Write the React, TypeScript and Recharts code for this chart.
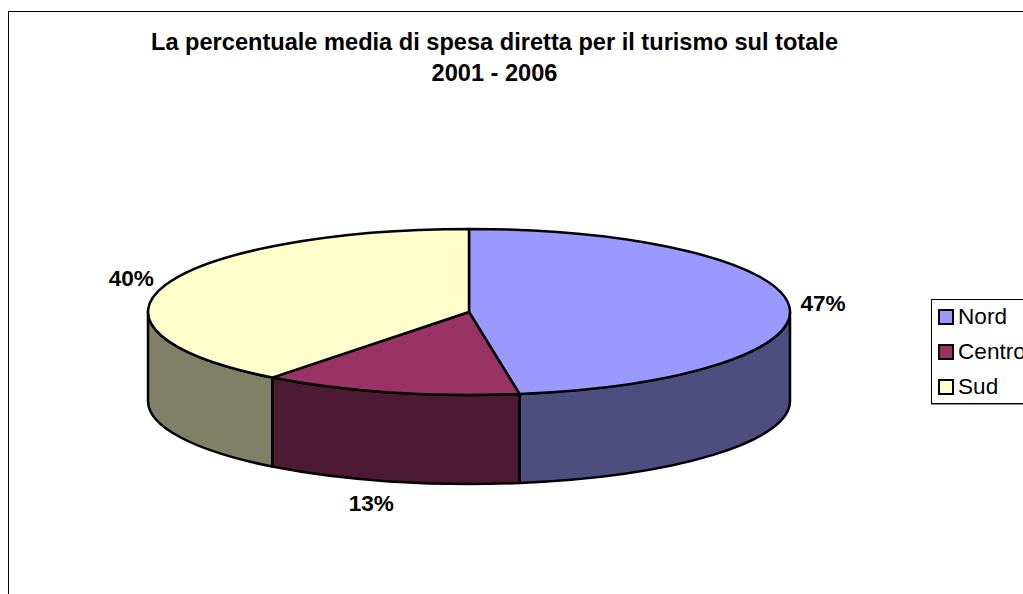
import React from "react";
import { PieChart, Pie, Legend } from "recharts";

const categories = ["Nord", "Centro", "Sud"];
const shares = [47.49, 13.01, 39.5];
const topColors = ["#9999FF", "#993366", "#FFFFCC"];
const sideColors = ["#4D4D80", "#4D1A33", "#808066"];
const titleLines = [
  "La percentuale media di spesa diretta per il turismo sul totale",
  "2001 - 2006",
];

const FONT = '"Liberation Sans", Arial, sans-serif';
const WIDTH = 1023;
const HEIGHT = 594;
const CX = 469;
const CY = 312;
const RX = 321;
const RY = 83; // flattened height of the pie top
const DEPTH = 89;
const OUTLINE = 2.5;

// label offset from the rim point of each slice
const labelOffsets = [
  { dx: 34, dy: -2 },
  { dx: -18, dy: 111 },
  { dx: -34, dy: -7 },
];

const tableData = categories.map((name, i) => ({
  name,
  value: shares[i],
  fill: topColors[i],
  side: sideColors[i],
}));

const rim = (cx: number, cy: number, rx: number, ry: number, deg: number) => {
  const a = (deg * Math.PI) / 180;
  return { x: cx + rx * Math.cos(a), y: cy - ry * Math.sin(a) };
};

// 3D looking slice: the recharts angles are kept, only the circle is squashed
const Slice = (props: any) => {
  const { cx, cy, outerRadius, startAngle, endAngle, fill, side } = props;
  const ry = (outerRadius * RY) / RX;
  const a = rim(cx, cy, outerRadius, ry, startAngle);
  const b = rim(cx, cy, outerRadius, ry, endAngle);
  const large = Math.abs(startAngle - endAngle) > 180 ? 1 : 0;
  const top = `M${cx},${cy} L${a.x},${a.y} A${outerRadius},${ry} 0 ${large} 1 ${b.x},${b.y} Z`;

  // only the front half of the rim has a visible wall
  const from = Math.min(startAngle, 0);
  const to = Math.max(endAngle, -180);
  let wall = null;
  if (from > to) {
    const p = rim(cx, cy, outerRadius, ry, from);
    const q = rim(cx, cy, outerRadius, ry, to);
    wall = `M${p.x},${p.y} A${outerRadius},${ry} 0 0 1 ${q.x},${q.y} L${q.x},${q.y + DEPTH} A${outerRadius},${ry} 0 0 0 ${p.x},${p.y + DEPTH} Z`;
  }

  return (
    <g>
      {wall && <path d={wall} fill={side} stroke="#000" strokeWidth={OUTLINE} strokeLinejoin="round" />}
      <path d={top} fill={fill} stroke="#000" strokeWidth={OUTLINE} strokeLinejoin="round" />
    </g>
  );
};

const renderLabel = (props: any) => {
  const { cx, cy, outerRadius, midAngle, percent, index } = props;
  const p = rim(cx, cy, outerRadius, (outerRadius * RY) / RX, midAngle);
  const off = labelOffsets[index];
  return (
    <text
      x={p.x + off.dx}
      y={p.y + off.dy}
      textAnchor="middle"
      dominantBaseline="central"
      fontFamily={FONT}
      fontSize={22.6}
      fontWeight="bold"
      fill="#000"
    >
      {`${Math.round(percent * 100)}%`}
    </text>
  );
};

const renderLegend = (props: any) => (
  <div
    style={{
      width: 130,
      height: 105,
      boxSizing: "border-box",
      border: "1px solid #000",
      boxShadow: "0 1px 0 #888",
      background: "#fff",
      paddingLeft: 6,
      fontFamily: FONT,
      fontSize: 22.6,
      color: "#000",
    }}
  >
    <div style={{ position: "relative", top: -1 }}>
      {(props.payload || []).map((item: any) => (
        <div key={item.value} style={{ display: "flex", alignItems: "center", height: 35 }}>
          <span
            style={{
              width: 16,
              height: 16,
              boxSizing: "border-box",
              border: "2px solid #000",
              background: item.color,
              marginRight: 4,
            }}
          />
          {item.value}
        </div>
      ))}
    </div>
  </div>
);

export default function App() {
  return (
    <div
      style={{
        position: "fixed",
        left: 0,
        top: 0,
        width: WIDTH,
        height: HEIGHT,
        overflow: "hidden",
        background: "#fff",
      }}
    >
      <PieChart width={WIDTH} height={HEIGHT} margin={{ top: 0, right: 0, bottom: 0, left: 0 }}>
        <rect x={8.5} y={11.5} width={1200} height={800} fill="none" stroke="#000" strokeWidth={1} />
        {titleLines.map((line, i) => (
          <text
            key={line}
            x={494.5}
            y={50 + i * 31}
            textAnchor="middle"
            fontFamily={FONT}
            fontSize={23.6}
            fontWeight="bold"
            fill="#000"
          >
            {line}
          </text>
        ))}
        <Pie
          data={tableData}
          dataKey="value"
          nameKey="name"
          cx={CX}
          cy={CY}
          outerRadius={RX}
          startAngle={90}
          endAngle={-270}
          shape={Slice}
          label={renderLabel}
          labelLine={false}
          isAnimationActive={false}
        />
        <Legend
          content={renderLegend}
          itemSorter={null}
          wrapperStyle={{ position: "absolute", left: 931, top: 299, width: 130, height: 105 }}
        />
      </PieChart>
    </div>
  );
}
